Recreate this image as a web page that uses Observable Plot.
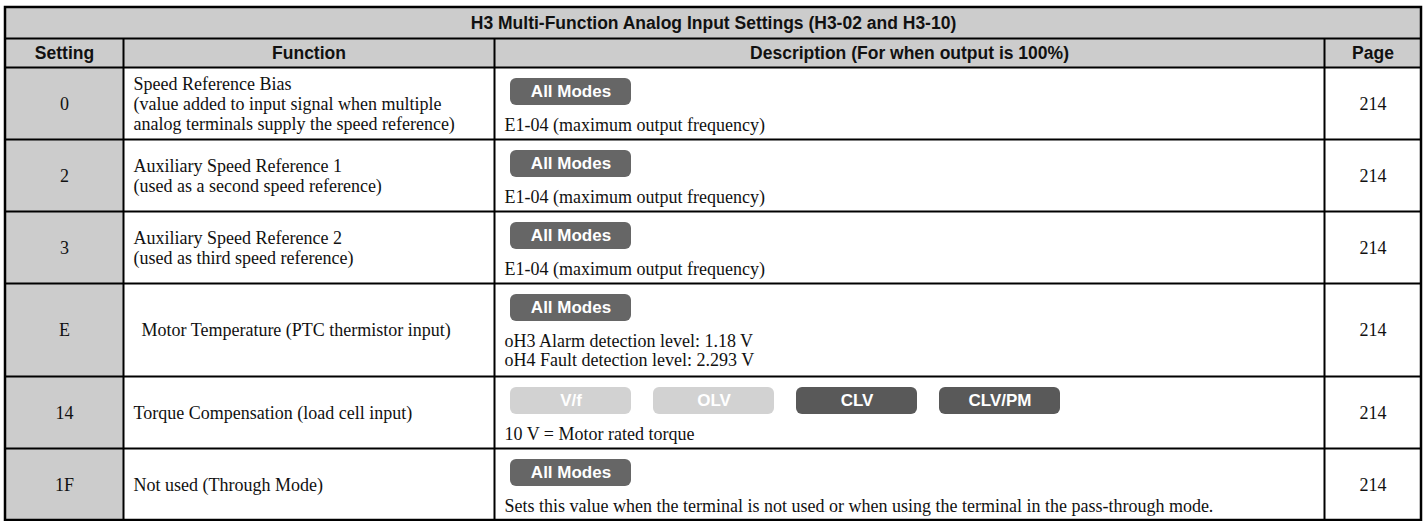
<!DOCTYPE html>
<html><head><meta charset="utf-8">
<script src="https://cdn.jsdelivr.net/npm/d3@7"></script>
<script src="https://cdn.jsdelivr.net/npm/@observablehq/plot@0.6"></script>
<style>html,body{margin:0;padding:0;background:#fff}</style>
</head><body><div id="chart"></div>
<script>
// ---- data ----
const title = "H3 Multi-Function Analog Input Settings (H3-02 and H3-10)";
const headers = ["Setting", "Function", "Description (For when output is 100%)", "Page"];
const settings = ["0", "2", "3", "E", "14", "1F"];
const functions = [
  "Speed Reference Bias\n(value added to input signal when multiple\nanalog terminals supply the speed reference)",
  "Auxiliary Speed Reference 1\n(used as a second speed reference)",
  "Auxiliary Speed Reference 2\n(used as third speed reference)",
  "Motor Temperature (PTC thermistor input)",
  "Torque Compensation (load cell input)",
  "Not used (Through Mode)"
];
const descriptions = [
  "E1-04 (maximum output frequency)",
  "E1-04 (maximum output frequency)",
  "E1-04 (maximum output frequency)",
  "oH3 Alarm detection level: 1.18 V\noH4 Fault detection level: 2.293 V",
  "10 V = Motor rated torque",
  "Sets this value when the terminal is not used or when using the terminal in the pass-through mode."
];
const modes = [
  ["All Modes"], ["All Modes"], ["All Modes"], ["All Modes"],
  ["V/f", "OLV", "CLV", "CLV/PM"],
  ["All Modes"]
];
const modeActive = [[true], [true], [true], [true], [false, false, true, true], [true]];
const pages = ["214", "214", "214", "214", "214", "214"];

// ---- layout / style ----
const W = 1426, H = 521;
const colEdges = [5, 123, 494, 1324, 1421];
const tableTop = 7, titleH = 31, headH = 29;
const rowBase = 72, rowExtraPerLine = 21;
const functionIndent = [10, 10, 10, 18, 10, 10];
const bodyFont = "'Liberation Serif','Times New Roman',serif";
const headFont = "'Liberation Sans',Arial,sans-serif";
const bodySize = 18, headSize = 17.5, badgeSize = 17;
const funcGap = 20, descGap = 19;
const grey = "#cccccc";
const badgeW = 121, badgeGap = 22, badgeH = 27, badgeTop = 11;

const titleBottom = tableTop + titleH;
const headBottom = titleBottom + headH;
const rowTops = [headBottom];
descriptions.forEach((d, i) => {
  const n = d.split("\n").length;
  rowTops.push(rowTops[i] + rowBase + (n - 1) * rowExtraPerLine);
});
const tableBottom = rowTops[rowTops.length - 1];

// cells
const cells = [];
cells.push({x1: colEdges[0], x2: colEdges[4], y1: tableTop, y2: titleBottom, fill: grey});
cells.push({x1: colEdges[0], x2: colEdges[4], y1: titleBottom, y2: headBottom, fill: grey});
settings.forEach((s, i) => {
  cells.push({x1: colEdges[0], x2: colEdges[1], y1: rowTops[i], y2: rowTops[i + 1], fill: grey});
});

// badges
const badges = [];
modes.forEach((ms, i) => {
  ms.forEach((m, j) => {
    const x1 = colEdges[2] + 16 + j * (badgeW + badgeGap);
    const y1 = rowTops[i] + badgeTop;
    badges.push({x1, x2: x1 + badgeW, y1, y2: y1 + badgeH, label: m,
      fill: modeActive[i][j] ? (m === "All Modes" ? "#666666" : "#595959") : "#d2d2d2"});
  });
});

// texts
const texts = [];
const cap = 0.35;
texts.push({x: (colEdges[0] + colEdges[4]) / 2, y: (tableTop + titleBottom) / 2 + cap * headSize, t: title, anchor: "middle", font: headFont, size: headSize, weight: "bold"});
headers.forEach((h, k) => {
  texts.push({x: (colEdges[k] + colEdges[k + 1]) / 2, y: (titleBottom + headBottom) / 2 + cap * headSize, t: h, anchor: "middle", font: headFont, size: headSize, weight: "bold"});
});
settings.forEach((s, i) => {
  const cy = (rowTops[i] + rowTops[i + 1]) / 2 + cap * bodySize;
  texts.push({x: (colEdges[0] + colEdges[1]) / 2, y: cy, t: s, anchor: "middle", font: bodyFont, size: bodySize, weight: "normal"});
  texts.push({x: (colEdges[3] + colEdges[4]) / 2, y: cy, t: pages[i], anchor: "middle", font: bodyFont, size: bodySize, weight: "normal"});
  const fl = functions[i].split("\n");
  fl.forEach((line, k) => {
    texts.push({
      x: colEdges[1] + functionIndent[i],
      y: cy + (k - (fl.length - 1) / 2) * funcGap, t: line,
      anchor: "start", font: bodyFont, size: bodySize, weight: "normal"});
  });
  descriptions[i].split("\n").forEach((line, k) => {
    texts.push({x: colEdges[2] + 10, y: rowTops[i] + badgeTop + badgeH + 25 + k * descGap, t: line, anchor: "start", font: bodyFont, size: bodySize, weight: "normal"});
  });
});

// lines
const hLines = [titleBottom, headBottom, ...rowTops.slice(1, -1)].map(y => ({y, x1: colEdges[0], x2: colEdges[4]}));
const vLines = colEdges.slice(1, -1).map(x => ({x, y1: titleBottom, y2: tableBottom}));

const textMark = (sub) => Plot.text(sub, {
  x: "x", y: "y", text: "t", textAnchor: sub[0].anchor, lineAnchor: "bottom",
  fontFamily: sub[0].font, fontSize: sub[0].size, fontWeight: sub[0].weight, fill: "#111"
});
const groups = d3.groups(texts, d => d.anchor + "|" + d.font + "|" + d.size + "|" + d.weight).map(g => g[1]);

const chart = Plot.plot({
  width: W, height: H, margin: 0,
  x: {type: "linear", domain: [0, W], range: [0, W], axis: null},
  y: {type: "linear", domain: [0, H], range: [0, H], axis: null},
  style: {background: "white"},
  marks: [
    Plot.rect(cells, {x1: "x1", x2: "x2", y1: "y1", y2: "y2", fill: d => d.fill}),
    Plot.rect(badges, {x1: "x1", x2: "x2", y1: "y1", y2: "y2", fill: d => d.fill, rx: 6}),
    Plot.text(badges, {x: d => (d.x1 + d.x2) / 2, y: d => (d.y1 + d.y2) / 2, text: "label", fill: "white",
      fontFamily: headFont, fontWeight: "bold", fontSize: badgeSize}),
    ...groups.map(textMark),
    Plot.ruleY(hLines, {y: "y", x1: "x1", x2: "x2", stroke: "black", strokeWidth: 2}),
    Plot.ruleX(vLines, {x: "x", y1: "y1", y2: "y2", stroke: "black", strokeWidth: 2}),
    Plot.rect([{x1: colEdges[0], x2: colEdges[4], y1: tableTop, y2: tableBottom}],
      {x1: "x1", x2: "x2", y1: "y1", y2: "y2", fill: "none", stroke: "black", strokeWidth: 2.5})
  ]
});
document.getElementById("chart").appendChild(chart);
</script>
</body></html>
